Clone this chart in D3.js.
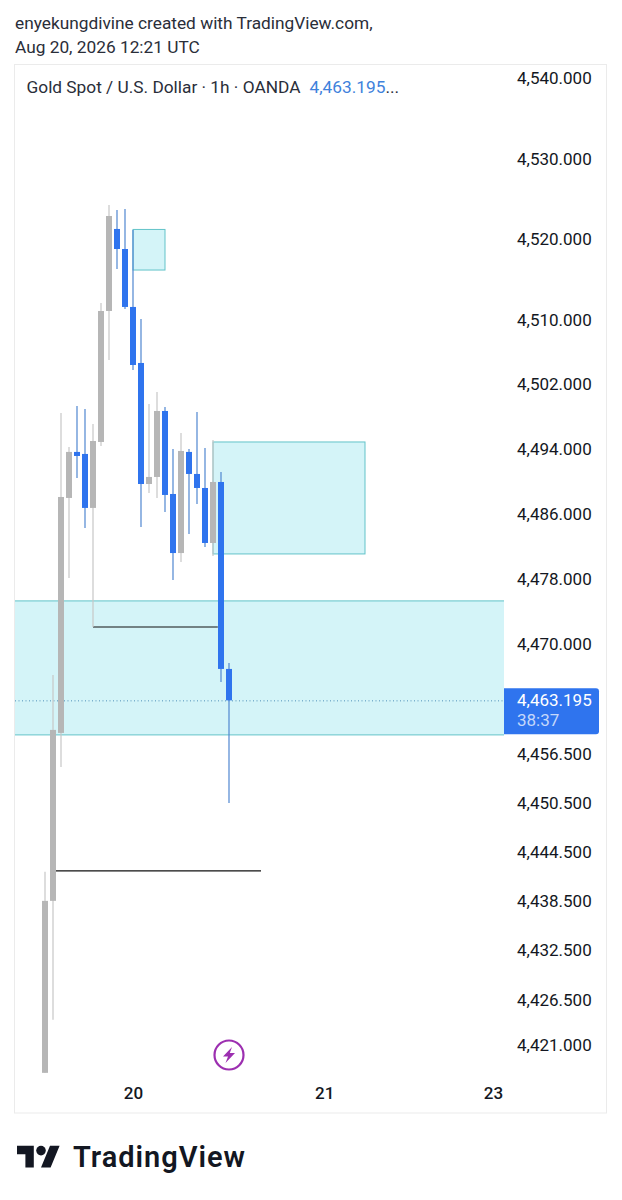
<!DOCTYPE html>
<html><head><meta charset="utf-8">
<script src="https://cdn.jsdelivr.net/npm/d3@7/dist/d3.min.js"></script>
<style>html,body{margin:0;padding:0;background:#fff}svg{display:block}text{font-family:Roboto,sans-serif}</style>
</head><body><svg id="c" width="622" height="1200"></svg>
<script>
const opens =[4417.74,4438.67,4459.20,4488.09,4493.77,4493.52,4486.86,4495.00,4511.21,4521.39,4518.90,4511.71,4504.77,4489.81,4490.68,4498.83,4488.58,4481.30,4493.77,4491.05,4489.32,4482.54,4490.06,4467.05];
const highs =[4442.21,4466.31,4498.58,4494.38,4499.45,4499.08,4497.22,4512.21,4524.37,4523.75,4523.87,4521.26,4510.22,4499.69,4501.18,4499.32,4494.13,4496.11,4494.13,4498.71,4494.25,4495.24,4491.29,4467.78];
const lows  =[4417.74,4424.18,4455.04,4478.24,4490.55,4484.39,4472.20,4494.51,4505.14,4516.42,4511.46,4503.90,4484.51,4488.70,4488.09,4486.36,4477.99,4480.20,4483.64,4487.35,4482.05,4480.94,4465.45,4450.63];
const closes=[4438.67,4459.57,4488.21,4493.77,4493.27,4486.86,4495.12,4511.21,4523.00,4518.90,4511.71,4504.52,4489.81,4490.68,4498.83,4488.46,4481.30,4493.89,4491.05,4489.32,4482.54,4490.06,4467.05,4463.195];
const priceTicks=[4540,4530,4520,4510,4502,4494,4486,4478,4470,4456.5,4450.5,4444.5,4438.5,4432.5,4426.5,4421];
const timeTickBars=[11,34.9,56];
const timeTickLabels=["20","21","23"];
const zones=[{b0:-5,b1:60,hi:4475.41,lo:4458.96},{b0:11,b1:15,hi:4521.33,lo:4516.29},{b0:21,b1:40,hi:4495.00,lo:4481.19}];
const levels=[{b0:6,b1:21.6,p:4472.20},{b0:1.25,b1:27,p:4442.32}];
const lastPrice=4463.195, countdown="38:37";
const headerLines=["enyekungdivine created with TradingView.com,","Aug 20, 2026 12:21 UTC"];
const legendText="Gold Spot / U.S. Dollar · 1h · OANDA";
const legendPrice="4,463.195...";

const BLUE="#2f74ee",GRAY="#b6b6b6";
const svg=d3.select("#c");
const y=d3.scaleLog().domain([4540,4421]).range([79.5,1046]);
const x=d3.scaleLinear().domain([0,23]).range([45,229]);
const fmt=d3.format(",.3f");

svg.selectAll(".hdr").data(headerLines).join("text").attr("x",15).attr("y",(d,i)=>29+i*24)
  .attr("font-size",17.3).attr("fill","#2a2e39").text(d=>d);

svg.append("rect").attr("x",14.5).attr("y",64.5).attr("width",592).attr("height",1048.5).attr("fill","#fff").attr("stroke","#ebebeb");
svg.append("defs").append("clipPath").attr("id","pane").append("rect").attr("x",15).attr("y",65).attr("width",489).attr("height",1015);
const pane=svg.append("g").attr("clip-path","url(#pane)");

pane.selectAll(".zone").data(zones).join("rect")
  .attr("x",d=>x(d.b0)).attr("width",d=>x(d.b1)-x(d.b0))
  .attr("y",d=>y(d.hi)).attr("height",d=>y(d.lo)-y(d.hi))
  .attr("fill","#d4f4f8").attr("stroke","#62c3c9").attr("stroke-width",1);

pane.append("line").attr("x1",15).attr("x2",504).attr("y1",y(lastPrice)+0.5).attr("y2",y(lastPrice)+0.5)
  .attr("stroke","#4d8fb8").attr("stroke-width",1).attr("stroke-dasharray","1 2.5");

pane.selectAll(".lvl").data(levels).join("line")
  .attr("x1",d=>x(d.b0)).attr("x2",d=>x(d.b1)).attr("y1",d=>y(d.p)).attr("y2",d=>y(d.p))
  .attr("stroke","#111").attr("stroke-width",1.2);

const idx=d3.range(opens.length);
const isUp=i=>closes[i]>=opens[i];
pane.selectAll(".wick").data(idx).join("line")
  .attr("x1",i=>x(i)).attr("x2",i=>x(i)).attr("y1",i=>y(highs[i])).attr("y2",i=>y(lows[i]))
  .attr("stroke",i=>isUp(i)?"#c6c6c6":"#4f86d0").attr("stroke-width",1.2);
pane.selectAll(".body").data(idx).join("rect")
  .attr("x",i=>x(i)-3).attr("width",6)
  .attr("y",i=>y(Math.max(opens[i],closes[i])))
  .attr("height",i=>Math.abs(y(opens[i])-y(closes[i])))
  .attr("fill",i=>isUp(i)?GRAY:BLUE);

const ay=svg.append("g").attr("transform","translate(517,-1)")
  .call(d3.axisRight(y).tickValues(priceTicks).tickFormat(fmt).tickSize(0).tickPadding(0));
ay.select(".domain").remove();
ay.selectAll("text").attr("font-size",17).attr("fill","#131722").attr("font-family","Roboto,sans-serif");

const ax=svg.append("g").attr("transform","translate(0,1087)")
  .call(d3.axisBottom(x).tickValues(timeTickBars).tickFormat((d,i)=>timeTickLabels[i]).tickSize(0).tickPadding(0));
ax.select(".domain").remove();
ax.selectAll("text").attr("font-size",17).attr("font-weight",500).attr("fill","#131722").attr("font-family","Roboto,sans-serif");

const ly=y(lastPrice);
svg.append("path").attr("fill",BLUE)
  .attr("d",`M504,${ly-12}H596a3,3 0 0 1 3,3V${ly+31}a3,3 0 0 1 -3,3H504Z`);
svg.append("text").attr("x",517).attr("y",ly+6).attr("font-size",17).attr("fill","#fff").text(fmt(lastPrice));
svg.append("text").attr("x",517).attr("y",ly+26).attr("font-size",17).attr("fill","#c5d8fa").text(countdown);

const lg=svg.append("text").attr("x",26.5).attr("y",93).attr("font-size",17.3);
lg.append("tspan").attr("fill","#2a2e39").text(legendText);
lg.append("tspan").attr("dx",9).attr("fill","#3f82dc").text(legendPrice.slice(0,-3));
lg.append("tspan").attr("fill","#2a2e39").text("...");

const ic=svg.append("g").attr("transform","translate(229,1055)");
ic.append("circle").attr("r",14.5).attr("fill","#fff").attr("stroke","#9c2fb0").attr("stroke-width",2.2);
ic.append("path").attr("d","M3,-8 L-6,1.5 L-1,1.5 L-3.5,8 L6,-2 L0.8,-2 Z").attr("fill","#9c2fb0");

const lo=svg.append("g").attr("transform","translate(17,1141) scale(1.2)").attr("fill","#131722");
lo.append("path").attr("d","M14 22H7V11H0V4h14v18zM28 22h-8l7.5-18h8L28 22z");
lo.append("circle").attr("cx",20).attr("cy",8).attr("r",4);
svg.append("text").attr("x",73).attr("y",1167).attr("font-family","Inter,sans-serif").attr("font-size",29).attr("font-weight",600)
  .attr("textLength",172).attr("lengthAdjust","spacing").attr("fill","#131722").text("TradingView");
</script></body></html>
